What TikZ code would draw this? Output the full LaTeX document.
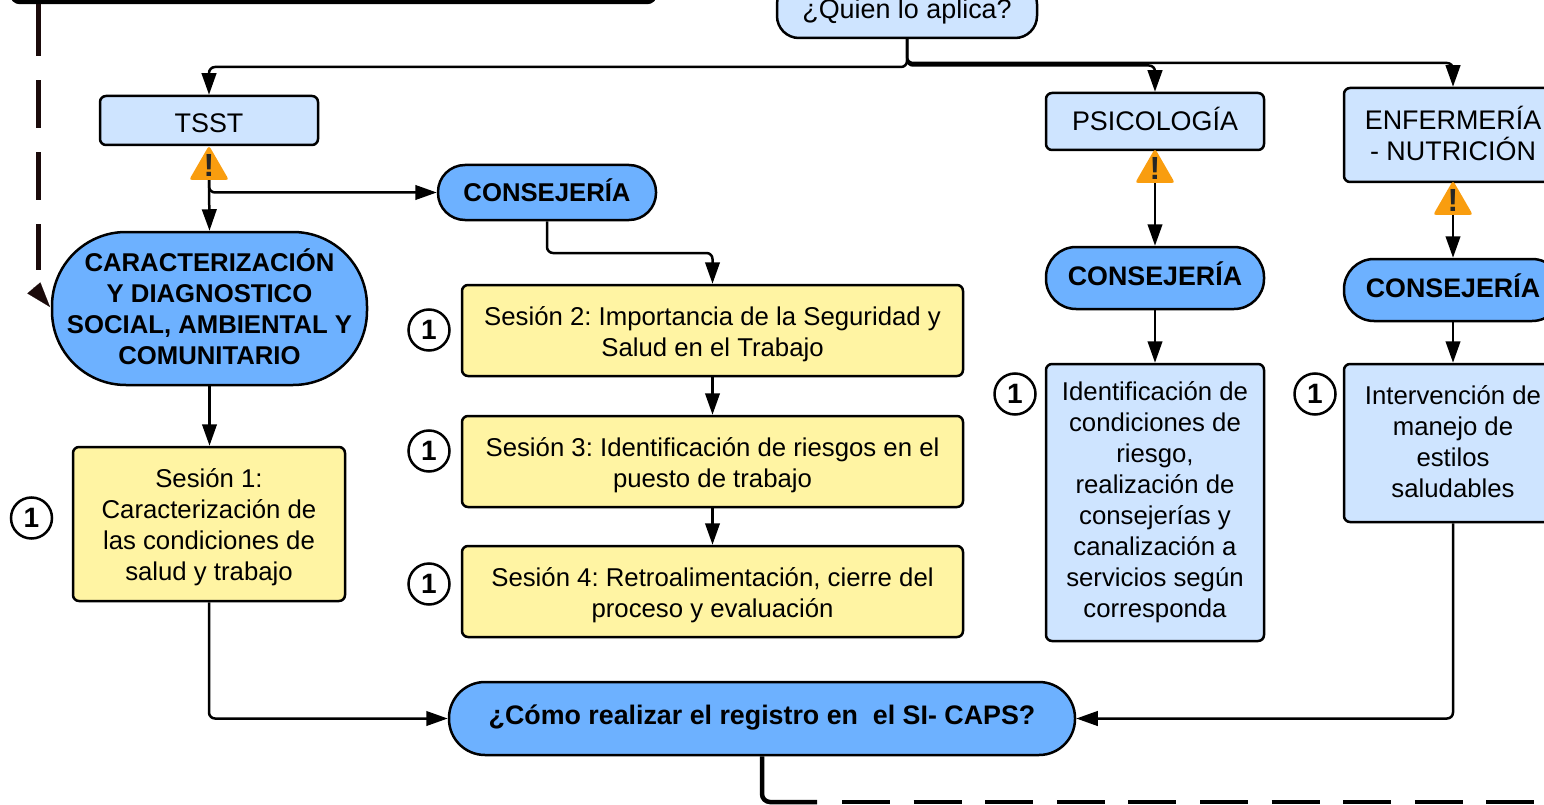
\documentclass[tikz,border=0pt]{standalone}
\usepackage{fontspec}
\setmainfont{Liberation Sans}
\usetikzlibrary{arrows.meta,shapes.geometric}
\definecolor{lightblue}{HTML}{CEE4FF}
\definecolor{pillblue}{HTML}{6DB1FF}
\definecolor{sessionyellow}{HTML}{FFF4A3}
\definecolor{warnorange}{HTML}{F99D0F}
\definecolor{darkline}{HTML}{1A0A0A}
\tikzset{
  plainbox/.style={inner sep=0pt,draw=black,line width=2.5pt},
  infobox/.style={plainbox,fill=lightblue,rounded corners=6pt},
  sessionbox/.style={plainbox,fill=sessionyellow,rounded corners=6pt},
  pill/.style={plainbox,fill=pillblue},
  headtext/.style={font=\fontsize{26.9}{31}\selectfont,align=center,inner sep=0pt},
  bodytext/.style={font=\fontsize{25.75}{31}\selectfont,align=center,inner sep=0pt},
  pilltext/.style={font=\fontsize{25.7}{31}\selectfont\bfseries,align=center,inner sep=0pt},
  bigpilltext/.style={font=\fontsize{26.8}{31}\selectfont\bfseries,align=center,inner sep=0pt},
  countmark/.style={circle,draw=black,fill=white,line width=2.5pt,minimum size=41pt,inner sep=0pt,font=\fontsize{28}{31}\selectfont\bfseries},
  warnmark/.style={font=\fontsize{32}{32}\selectfont\bfseries,text=black!85,inner sep=0pt,yshift=3.4pt},
  warnsign/.style={regular polygon,regular polygon sides=3,minimum size=46pt,inner sep=0pt,fill=warnorange,rounded corners=3pt,label={[warnmark]center:!}},
  link/.style={line width=2.5pt,rounded corners=6pt,-{Triangle[length=21.5pt,width=14.5pt]}},
}
\begin{document}
\begin{tikzpicture}[x=1pt,y=-1pt]
    \frenchspacing
    \useasboundingbox (0,0) rectangle (1544,805);
    \clip (0,0) rectangle (1544,805);
    \node[draw=black,line width=4.5pt,rounded corners=8pt,minimum width=643pt,minimum height=60pt] (topbox) at (333.5,-28) {};
    \node[infobox,rounded corners=22pt,minimum width=260pt,minimum height=56pt,label={[headtext,yshift=-2pt]center:{¿Quien lo aplica?}}] (quien) at (907,10) {};
    \node[infobox,minimum width=218pt,minimum height=49pt,label={[headtext,yshift=-3pt]center:{TSST}}] (tsst) at (209,120.5) {};
    \node[infobox,minimum width=218pt,minimum height=57pt,label={[headtext,yshift=3pt]center:{PSICOLOGÍA}}] (psico) at (1155,121.5) {};
    \node[infobox,minimum width=218pt,minimum height=94pt,label={[headtext,yshift=1.5pt]center:{ENFERMERÍA\\- NUTRICIÓN}}] (enfer) at (1453,135) {};
    \node[warnsign] (warntsst) at (209,168.5) {};
    \node[warnsign] (warnpsico) at (1155,171.5) {};
    \node[warnsign] (warnenfer) at (1453,203.5) {};
    \node[pill,rounded corners=27pt,minimum width=218pt,minimum height=55pt,label={[pilltext,yshift=2.5pt]center:{CONSEJERÍA}}] (consejo) at (547,192.5) {};
    \node[pill,rounded corners=30pt,minimum width=218pt,minimum height=62pt,label={[bigpilltext,yshift=4pt]center:{CONSEJERÍA}}] (consejb) at (1155,278) {};
    \node[pill,rounded corners=30pt,minimum width=218pt,minimum height=62pt,label={[bigpilltext,yshift=4pt]center:{CONSEJERÍA}}] (consejc) at (1453,290) {};
    \node[pill,rounded corners=74pt,minimum width=315pt,minimum height=153pt,label={[pilltext,yshift=2pt]center:{CARACTERIZACIÓN\\Y DIAGNOSTICO\\SOCIAL, AMBIENTAL Y\\COMUNITARIO}}] (carac) at (209.5,308.5) {};
    \node[sessionbox,minimum width=272pt,minimum height=154pt,label={[bodytext,yshift=-3pt]center:{Sesión 1:\\Caracterización de\\las condiciones de\\salud y trabajo}}] (ses1) at (209,524) {};
    \node[sessionbox,minimum width=501pt,minimum height=91pt,label={[bodytext,yshift=-4pt]center:{Sesión 2: Importancia de la Seguridad y\\Salud en el Trabajo}}] (ses2) at (712.5,330.5) {};
    \node[sessionbox,minimum width=501pt,minimum height=91pt,label={[bodytext,yshift=-4pt]center:{Sesión 3: Identificación de riesgos en el\\puesto de trabajo}}] (ses3) at (712.5,461.5) {};
    \node[sessionbox,minimum width=501pt,minimum height=91pt,label={[bodytext,yshift=-4pt]center:{Sesión 4: Retroalimentación, cierre del\\proceso y evaluación}}] (ses4) at (712.5,591.5) {};
    \node[infobox,minimum width=218pt,minimum height=277pt,label={[bodytext]center:{Identificación de\\condiciones de\\riesgo,\\realización de\\consejerías y\\canalización a\\servicios según\\corresponda}}] (ident) at (1155,502.5) {};
    \node[infobox,minimum width=218pt,minimum height=158pt,label={[bodytext,yshift=1pt]center:{Intervención de\\manejo de\\estilos\\saludables}}] (interv) at (1453,443) {};
    \node[pill,rounded corners=36pt,minimum width=626pt,minimum height=73pt,label={[bigpilltext,yshift=1pt]center:{¿Cómo realizar el registro en \ el SI- CAPS?}}] (registro) at (762,718.5) {};
    \node[countmark] (numa) at (31.5,518) {1};
    \node[countmark] (numb) at (429,330) {1};
    \node[countmark] (numc) at (429,451) {1};
    \node[countmark] (numd) at (429,584) {1};
    \node[countmark] (nume) at (1015,394) {1};
    \node[countmark] (numf) at (1315,394) {1};
    \coordinate (dashend) at (38,270);
    \coordinate (headstart) at (33.5,287.5);
    \coordinate (headtip) at (50,307);
    \coordinate (solidend) at (817,802);
    \coordinate (dashstart) at (842,802);
    \coordinate (pageend) at (1544,802);
    \draw[link] (quien.south) -- (907,67) -- (209,67) -- (tsst.north);
    \draw[link] (quien.south) -- (907,65.5) -- (1155,65.5) -- (psico.north);
    \draw[link] (quien.south) -- (907,63) -- (1453,63) -- (enfer.north);
    \draw[link] (warntsst.south) -- (carac.north);
    \draw[link] (warntsst.south) |- (consejo.west);
    \draw[link] (consejo.south) -- (547,253) -- (712.5,253) -- (ses2.north);
    \draw[link] (ses2.south) -- (ses3.north);
    \draw[link] (ses3.south) -- (ses4.north);
    \draw[link] (carac.south) -- (carac.south |- ses1.north);
    \draw[link] (ses1.south) |- (registro.west);
    \draw[link] (interv.south) |- (registro.east);
    \draw[link] (warnpsico.south) -- (consejb.north);
    \draw[link] (consejb.south) -- (ident.north);
    \draw[link] (warnenfer.south) -- (consejc.north);
    \draw[link] (consejc.south) -- (interv.north);
    \draw[line width=5pt,darkline,dash pattern=on 52pt off 24pt on 48pt off 24pt on 48pt off 24pt on 48pt off 24pt] (topbox.south -| dashend) -- (dashend);
    \draw[darkline,line width=0.1pt,-{Triangle[length=25pt,width=17pt]}] (headstart) -- (headtip);
    \draw[line width=4.5pt,rounded corners=8pt] (registro.south) |- (solidend);
    \draw[line width=4.5pt,dash pattern=on 48pt off 23.6pt] (dashstart) -- (pageend);
\end{tikzpicture}
\end{document}
